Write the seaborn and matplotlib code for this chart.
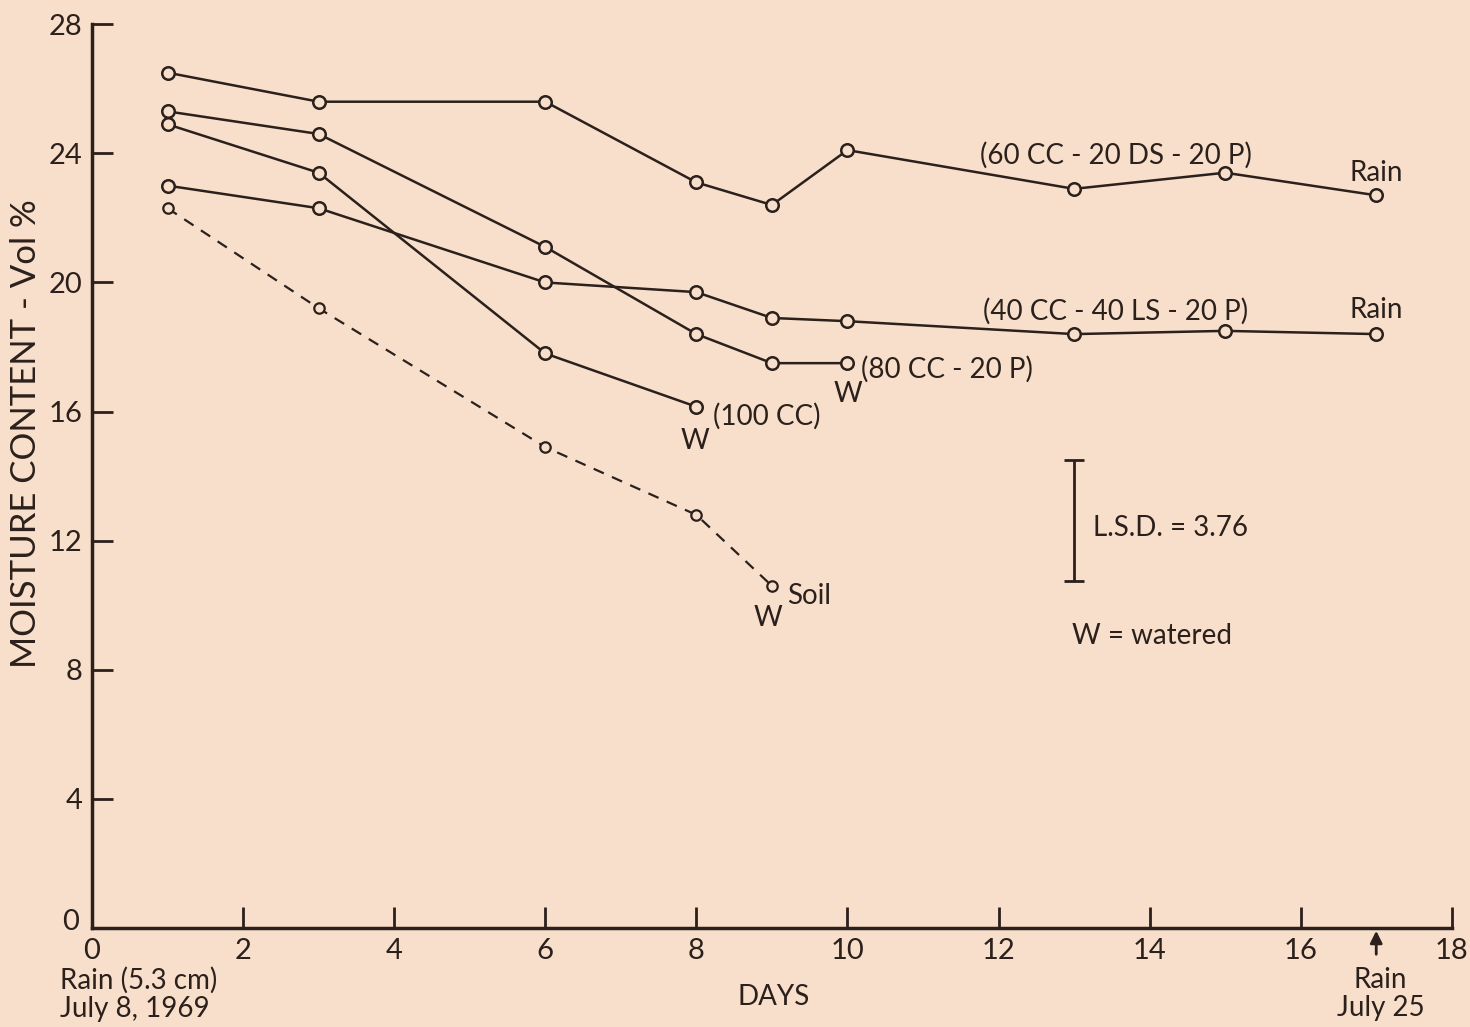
import matplotlib
matplotlib.use("Agg")
import matplotlib.pyplot as plt
import seaborn as sns
import pandas as pd

# Soil moisture after rain of July 8, 1969

days_long = [1, 3, 6, 8, 9, 10, 13, 15, 17]
mix_60cc = [26.5, 25.6, 25.6, 23.1, 22.4, 24.1, 22.9, 23.4, 22.7]
mix_40cc = [23.0, 22.3, 20.0, 19.7, 18.9, 18.8, 18.4, 18.5, 18.4]

days_80cc = [1, 3, 6, 8, 9, 10]
mix_80cc = [25.3, 24.6, 21.1, 18.4, 17.5, 17.5]

days_100cc = [1, 3, 6, 8]
mix_100cc = [24.9, 23.4, 17.8, 16.15]

days_soil = [1, 3, 6, 8, 9]
soil = [22.3, 19.2, 14.9, 12.8, 10.6]

lsd = 3.76
x_ticks = [0, 2, 4, 6, 8, 10, 12, 14, 16, 18]
y_ticks = [0, 4, 8, 12, 16, 20, 24, 28]

paper = "#f8dfcb"
ink = "#2b201b"

sns.set_style("ticks")
plt.rcParams["font.family"] = ["Lato", "DejaVu Sans"]

fig = plt.figure(figsize=(14.7, 10.27), dpi=100, facecolor=paper)
ax = fig.add_axes([0.0626, 0.0964, 0.925, 0.880], facecolor=paper)

solid = dict(color=ink, linewidth=1.8, marker="o", markersize=9,
             markerfacecolor=paper, markeredgecolor=ink, markeredgewidth=1.8)

sns.lineplot(x=days_long, y=mix_60cc, ax=ax, **solid)
sns.lineplot(x=days_long, y=mix_40cc, ax=ax, **solid)
sns.lineplot(x=days_80cc, y=mix_80cc, ax=ax, **solid)
sns.lineplot(x=days_100cc, y=mix_100cc, ax=ax, **solid)
sns.lineplot(x=days_soil, y=soil, ax=ax, color=ink, linewidth=1.6,
             linestyle=(0, (5, 4)), marker="o", markersize=7.5,
             markerfacecolor=paper, markeredgecolor=ink, markeredgewidth=1.6)

ax.set_xlim(0, 18)
ax.set_ylim(0, 28)
ax.set_xticks(x_ticks)
ax.set_yticks(y_ticks)
ax.set_yticklabels([""] + [str(t) for t in y_ticks[1:]])
for s in ["top", "right"]:
    ax.spines[s].set_visible(False)
for s in ["left", "bottom"]:
    ax.spines[s].set_linewidth(2.5)
    ax.spines[s].set_color(ink)
ax.tick_params(direction="in", length=15, width=2, colors=ink,
               labelsize=21, pad=7)
ax.set_xlabel("")
ax.set_ylabel("")

# series labels
fs = 20
ax.text(11.75, 23.95, "(60 CC - 20 DS - 20 P)", fontsize=fs, color=ink, va="center")
ax.text(17.0, 23.0, "Rain", fontsize=fs, color=ink, ha="center", va="bottom")
ax.text(11.8, 19.1, "(40 CC - 40 LS - 20 P)", fontsize=fs, color=ink, va="center")
ax.text(17.0, 18.75, "Rain", fontsize=fs, color=ink, ha="center", va="bottom")
ax.text(10.18, 17.3, "(80 CC - 20 P)", fontsize=fs, color=ink, va="center")
ax.text(10.0, 16.95, "W", fontsize=fs, color=ink, ha="center", va="top")
ax.text(8.22, 15.85, "(100 CC)", fontsize=fs, color=ink, va="center")
ax.text(7.98, 15.5, "W", fontsize=fs, color=ink, ha="center", va="top")
ax.text(9.2, 10.3, "Soil", fontsize=fs, color=ink, va="center")
ax.text(8.95, 10.0, "W", fontsize=fs, color=ink, ha="center", va="top")

# LSD bar
ax.errorbar([13.0], [12.62], yerr=[lsd / 2], color=ink, capsize=7,
            elinewidth=2, capthick=2, fmt="none")
ax.text(13.25, 12.4, "L.S.D. = 3.76", fontsize=fs, color=ink, va="center")
ax.text(12.97, 9.05, "W = watered", fontsize=fs, color=ink, va="center")

# zero label on the y axis
ax.text(-0.17, 0.2, "0", fontsize=21, color=ink, ha="right", va="center")

# axis titles and footnotes
fig.text(0.018, 0.578, "MOISTURE CONTENT - Vol %", rotation=90, fontsize=25,
         color=ink, ha="center", va="center")
fig.text(0.526, 0.029, "DAYS", fontsize=20, color=ink, ha="center", va="center")
fig.text(0.041, 0.0585, "Rain (5.3 cm)\nJuly 8, 1969", fontsize=20, color=ink,
         ha="left", va="top", linespacing=1.1)
fig.text(0.939, 0.0585, "Rain\nJuly 25", fontsize=20, color=ink,
         ha="center", va="top", linespacing=1.1)
ax.annotate("", xy=(17.0, 0.0), xytext=(17.0, -0.9), annotation_clip=False,
            arrowprops=dict(arrowstyle="-|>", color=ink, lw=2, mutation_scale=18))

fig.savefig("out.png", dpi=100, facecolor=paper)
